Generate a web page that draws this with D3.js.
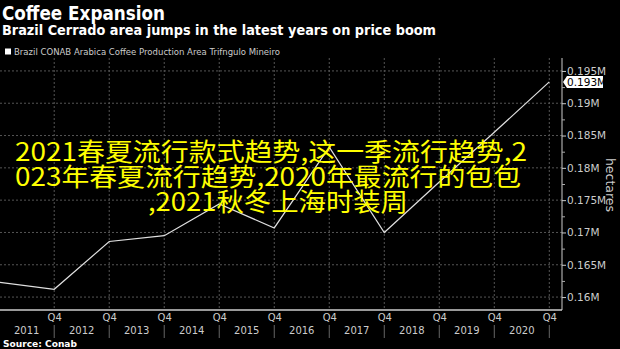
<!DOCTYPE html>
<html><head><meta charset="utf-8">
<script src="https://cdn.jsdelivr.net/npm/d3@7"></script>
<style>
html,body{margin:0;padding:0;background:#000;}
svg{display:block;}
</style></head>
<body>
<svg id="c" width="620" height="349"></svg>
<script>
const years = [2010, 2011, 2012, 2013, 2014, 2015, 2016, 2017, 2018, 2019, 2020];
const areaValues = [0.1623, 0.1612, 0.1686, 0.1695, 0.1744, 0.1707, 0.1832, 0.1700, 0.1778, 0.1855, 0.1933];
const yTicks = [0.16, 0.165, 0.17, 0.175, 0.18, 0.185, 0.19, 0.195];
const yMinorTicks = [0.1625, 0.1675, 0.1725, 0.1775, 0.1825, 0.1875, 0.1925];
const yearLabels = ["2011","2012","2013","2014","2015","2016","2017","2018","2019","2020"];
const quarterLabel = "Q4";
const title = "Coffee Expansion";
const subtitle = "Brazil Cerrado area jumps in the latest years on price boom";
const legendLabel = "Brazil CONAB Arabica Coffee Production Area Trifngulo Mineiro";
const unitLabel = "hectares";
const sourceLabel = "Source: Conab";
const lastLabel = "0.193M";
const overlayLines = ["2021春夏流行款式趋势,这一季流行趋势,2", "023年春夏流行趋势,2020年最流行的包包", ",2021秋冬上海时装周"];

const svg = d3.select("#c");
const W = 620, H = 349;
const plot = {left: 0, right: 562, top: 58, bottom: 310};
svg.append("rect").attr("width", W).attr("height", H).attr("fill", "#000");

const x = d3.scaleLinear().domain([2010, 2020]).range([-0.8, 549.3]);
const y = d3.scaleLinear().domain([0.158, 0.197]).range([plot.bottom, plot.top]);
const fmt = v => (Math.round(v * 1000) / 1000) + "M";

// gridlines
const grid = svg.append("g");
grid.selectAll("line.h").data(yTicks).enter().append("line")
  .attr("x1", plot.left).attr("x2", plot.right)
  .attr("y1", d => y(d)).attr("y2", d => y(d))
  .attr("stroke", "#555").attr("stroke-width", 1).attr("stroke-dasharray", "2,2");
grid.selectAll("line.v").data(years.slice(1)).enter().append("line")
  .attr("x1", d => x(d)).attr("x2", d => x(d))
  .attr("y1", plot.top).attr("y2", plot.bottom)
  .attr("stroke", "#555").attr("stroke-width", 1).attr("stroke-dasharray", "2,2");

// line
const line = d3.line().x((d, i) => x(years[i])).y(d => y(d));
svg.append("path").datum(areaValues).attr("d", line)
  .attr("fill", "none").attr("stroke", "#e0e0e0").attr("stroke-width", 1.2);

// right axis
const yAxis = d3.axisRight(y).tickValues(yTicks).tickFormat(fmt).tickSize(4).tickPadding(1);
const ya = svg.append("g").attr("transform", `translate(${plot.right},0)`).call(yAxis);
ya.select(".domain").attr("d", `M0,${plot.top}V${plot.bottom}`).attr("stroke", "#ccc");
ya.selectAll(".tick line").attr("stroke", "#ccc");
ya.selectAll(".tick text").attr("fill", "#ccc").attr("font-family", "DejaVu Sans").attr("font-size", 10.5);
const yMinor = d3.axisRight(y).tickValues(yMinorTicks).tickFormat("").tickSize(3);
const ym = svg.append("g").attr("transform", `translate(${plot.right},0)`).call(yMinor);
ym.select(".domain").remove();
ym.selectAll(".tick line").attr("stroke", "#aaa");

// x axis
svg.append("line").attr("x1", 0).attr("x2", plot.right).attr("y1", plot.bottom).attr("y2", plot.bottom)
  .attr("stroke", "#ccc").attr("stroke-width", 1.5);
const xq = d3.axisBottom(x).tickValues(years.slice(1)).tickFormat(() => quarterLabel).tickSize(0).tickPadding(4);
const xa = svg.append("g").attr("transform", `translate(0,${plot.bottom})`).call(xq);
xa.select(".domain").remove();
xa.selectAll(".tick text").attr("fill", "#ccc").attr("font-family", "DejaVu Sans").attr("font-size", 10);
// year separators
svg.selectAll("line.ysep").data(years.slice(1)).enter().append("line")
  .attr("x1", d => x(d)).attr("x2", d => x(d)).attr("y1", 325).attr("y2", 338)
  .attr("stroke", "#666").attr("stroke-width", 1);
svg.selectAll("text.yl").data(yearLabels).enter().append("text")
  .attr("x", (d, i) => (x(years[i]) + x(years[i + 1])) / 2).attr("y", 334)
  .attr("text-anchor", "middle").attr("fill", "#ccc")
  .attr("font-family", "DejaVu Sans").attr("font-size", 10).text(d => d);

// last value label
const lv = areaValues[areaValues.length - 1];
const ly = y(lv);
svg.append("path")
  .attr("d", `M${plot.right + 1},${ly} L${plot.right + 5},${ly - 6} H${plot.right + 41} V${ly + 6} H${plot.right + 5} Z`)
  .attr("fill", "#fff");
svg.append("text").attr("x", plot.right + 5).attr("y", ly + 4).attr("fill", "#000")
  .attr("font-family", "DejaVu Sans").attr("font-size", 10.5).text(lastLabel);

// unit label
svg.append("text").attr("transform", `translate(606,185) rotate(90)`).attr("text-anchor", "middle")
  .attr("fill", "#ccc").attr("font-family", "DejaVu Sans").attr("font-size", 12.5).text(unitLabel);

// titles
svg.append("text").attr("x", 2).attr("y", 20).attr("fill", "#fff").attr("font-family", "DejaVu Sans")
  .attr("font-weight", "bold").attr("font-size", 19).attr("textLength", 163).attr("lengthAdjust", "spacingAndGlyphs").text(title);
svg.append("text").attr("x", 2).attr("y", 35).attr("fill", "#fff").attr("font-family", "DejaVu Sans")
  .attr("font-weight", "bold").attr("font-size", 13.5).attr("textLength", 434).attr("lengthAdjust", "spacingAndGlyphs").text(subtitle);
svg.append("rect").attr("x", 5).attr("y", 48.5).attr("width", 6).attr("height", 6).attr("fill", "#fff");
svg.append("text").attr("x", 14).attr("y", 55).attr("fill", "#ccc").attr("font-family", "DejaVu Sans")
  .attr("font-size", 9).attr("textLength", 266).attr("lengthAdjust", "spacingAndGlyphs").text(legendLabel);
svg.append("text").attr("x", 3).attr("y", 347).attr("fill", "#fff").attr("font-family", "DejaVu Sans")
  .attr("font-weight", "bold").attr("font-size", 9).attr("textLength", 74).attr("lengthAdjust", "spacingAndGlyphs").text(sourceLabel);

// overlay text
const ov = [{x: 15, y: 160.5, w: 512}, {x: 15, y: 185.5, w: 506}, {x: 148, y: 210.5, w: 260}];
svg.selectAll("text.ov").data(overlayLines).enter().append("text")
  .attr("x", (d, i) => ov[i].x).attr("y", (d, i) => ov[i].y)
  .attr("textLength", (d, i) => ov[i].w).attr("lengthAdjust", "spacingAndGlyphs")
  .attr("fill", "#ffff00").attr("font-family", "Noto Sans CJK SC").attr("font-size", 25)
  .text(d => d);
</script>
</body></html>
